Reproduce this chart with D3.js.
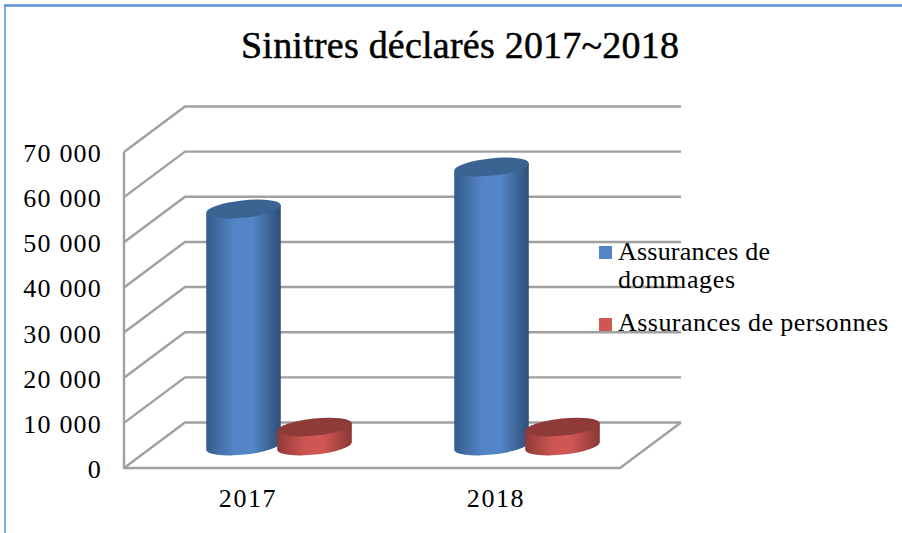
<!DOCTYPE html>
<html><head><meta charset="utf-8">
<style>html,body{margin:0;padding:0;background:#fff}svg{display:block}</style>
<script src="https://cdn.jsdelivr.net/npm/d3@7"></script></head>
<body><script>
const categories = ["2017", "2018"];
const seriesNames = ["Assurances de dommages", "Assurances de personnes"];
const dommages = [52500, 61800];
const personnes = [4200, 4200];
const tickValues = [0, 10000, 20000, 30000, 40000, 50000, 60000, 70000];
const tickLabels = ["0", "10 000", "20 000", "30 000", "40 000", "50 000", "60 000", "70 000"];
const chartTitle = "Sinitres déclarés 2017~2018";
const colors = { blue: ["#345c8c", "#5485c6", "#2e4f78"], blueTop: "#3a6391", red: ["#8f3a38", "#cf5653", "#8a3634"], redTop: "#8f3b39" };

const W = 902, H = 533, font = "'Liberation Serif', serif";
const svg = d3.select("body").append("svg").attr("width", W).attr("height", H);
const defs = svg.append("defs");
[["gradBlue", colors.blue], ["gradRed", colors.red]].forEach(([id, c]) => {
  const g = defs.append("linearGradient").attr("id", id);
  [[0, c[0]], [.38, c[1]], [.62, c[1]], [1, c[2]]].forEach(([o, k]) => g.append("stop").attr("offset", o).attr("stop-color", k));
});

// frame
svg.append("path").attr("d", "M5,533V6").attr("fill", "none").attr("stroke", "#7fabe6").attr("stroke-width", 2);
svg.append("path").attr("d", "M4,5.5H902").attr("fill", "none").attr("stroke", "#5b8fd9").attr("stroke-width", 2.5);

// title
svg.append("text").attr("x", 241).attr("y", 58).attr("font-family", font).attr("font-size", 38)
  .attr("textLength", 438).attr("lengthAdjust", "spacing").attr("fill", "#000")
  .attr("stroke", "#000").attr("stroke-width", 0.5).text(chartTitle);

// 3-D frame: front plane and depth offset
const yFront = d3.scaleLinear().domain([0, 70000]).range([468, 152]);
const depth = { dx: 61, dy: -45.5 };
const frontL = 124, frontR = 620;
const gl = svg.append("g").attr("fill", "none").attr("stroke", "#a0a0a0").attr("stroke-width", 2.4);
tickValues.forEach(v => {
  const y = yFront(v);
  gl.append("path").attr("d", d3.line()([[frontL, y], [frontL + depth.dx, y + depth.dy], [frontR + depth.dx, y + depth.dy]]));
});
gl.append("path").attr("d", d3.line()([[frontL, yFront(70000)], [frontL, yFront(0)], [frontR, yFront(0)], [frontR + depth.dx, yFront(0) + depth.dy]]));

// y labels
svg.append("g").selectAll("text").data(tickValues).join("text")
  .attr("x", 102).attr("y", v => yFront(v) + 10).attr("text-anchor", "end")
  .attr("font-family", font).attr("font-size", 26).attr("letter-spacing", 1.2).attr("fill", "#000")
  .text((v, i) => tickLabels[i]);

// x labels
const xCat = d3.scaleBand().domain(categories).range([frontL, frontR]);
svg.append("g").selectAll("text").data(categories).join("text")
  .attr("x", d => xCat(d) + xCat.bandwidth() / 2).attr("y", 507).attr("text-anchor", "middle")
  .attr("font-family", font).attr("font-size", 26).attr("letter-spacing", 1.6).attr("fill", "#000").text(d => d);

// cylinders
const rx = 37.5, ry = 8.6, rot = -6;
const baseLift = 22;           // base centre sits above the front floor line
const xSeries = d3.scaleOrdinal().domain(seriesNames).range([119.5, 190.5]);
const rows = [];
categories.forEach((c, i) => {
  rows.push({ c, s: 0, v: dommages[i] });
  rows.push({ c, s: 1, v: personnes[i] });
});
const cyl = svg.append("g");
const rad = rot * Math.PI / 180;
const ex = rx * Math.cos(rad), ey = rx * Math.sin(rad);
rows.forEach(d => {
  const x = xCat(d.c) + xSeries(seriesNames[d.s]), yb = yFront(0) - baseLift, yt = yFront(d.v) - baseLift;
  const g = cyl.append("g");
  g.append("path")
    .attr("d", `M${x - ex},${yt - ey}L${x - ex},${yb - ey}A${rx},${ry} ${rot} 0 0 ${x + ex},${yb + ey}L${x + ex},${yt + ey}Z`)
    .attr("fill", d.s ? "url(#gradRed)" : "url(#gradBlue)");
  g.append("ellipse").attr("rx", rx).attr("ry", ry)
    .attr("transform", `translate(${x},${yt}) rotate(${rot})`)
    .attr("fill", d.s ? colors.redTop : colors.blueTop);
});

// legend
const lg = svg.append("g").attr("font-family", font).attr("font-size", 26).attr("fill", "#000");
const lgTexts = [["Assurances de", "dommages"], ["Assurances de personnes"]];
const lgY = [260, 331];
const lgLen = [[152, 117], [270]];
lgTexts.forEach((lines, i) => {
  lg.append("rect").attr("x", 599).attr("y", (i ? 318 : 246)).attr("width", 13).attr("height", 13)
    .attr("fill", i ? colors.red[1] : colors.blue[1]);
  lines.forEach((t, j) => lg.append("text").attr("x", 618).attr("y", lgY[i] + j * 28)
    .attr("textLength", lgLen[i][j]).attr("lengthAdjust", "spacing").text(t));
});
</script></body></html>
